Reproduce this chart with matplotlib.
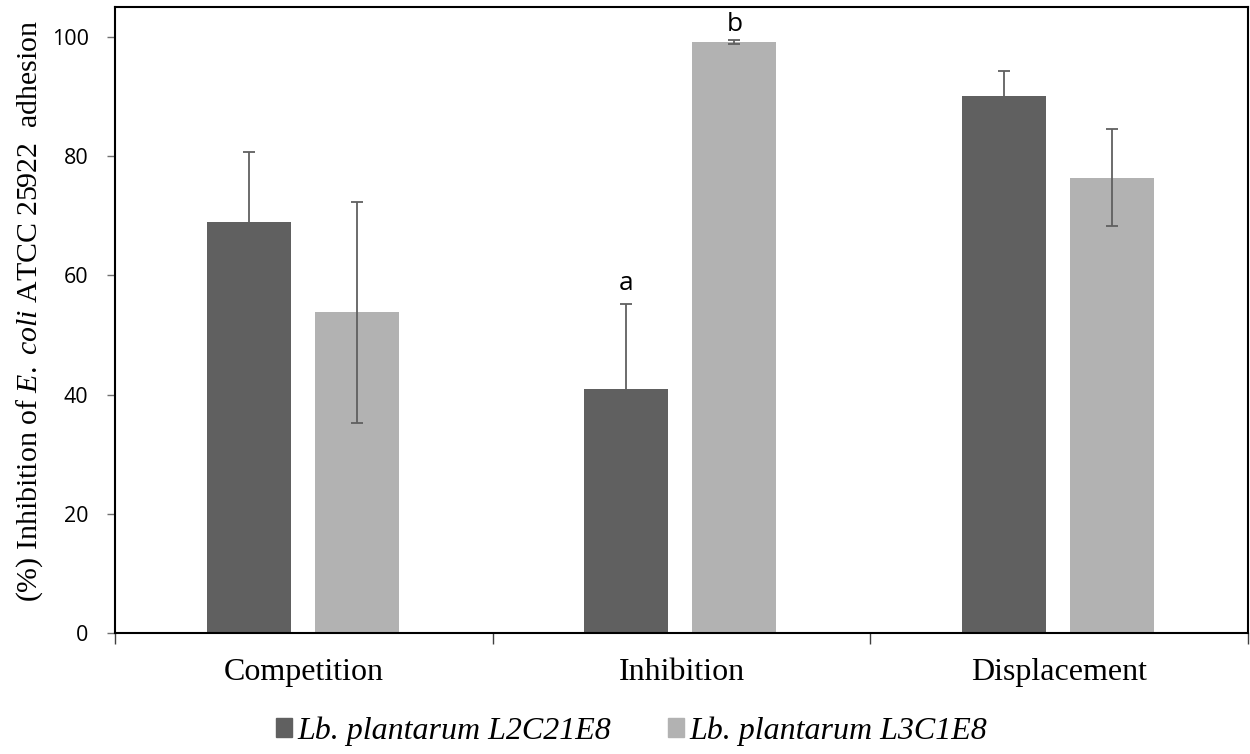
import numpy as np
import matplotlib.pyplot as plt
from matplotlib.patches import Patch

plt.rcParams['mathtext.fontset'] = 'custom'
plt.rcParams['mathtext.rm'] = 'Liberation Serif'
plt.rcParams['mathtext.it'] = 'Liberation Serif:italic'

categories = ["Competition", "Inhibition", "Displacement"]
strain1 = "Lb. plantarum L2C21E8"
strain2 = "Lb. plantarum L3C1E8"
vals1 = [69.0, 41.0, 90.0]
vals2 = [53.8, 99.1, 76.4]
err1 = [11.7, 14.1, 4.2]
err2 = [18.5, 0.3, 8.2]
letters1 = ["", "a", ""]
letters2 = ["", "b", ""]

dark = "#606060"
light = "#b2b2b2"

fig = plt.figure(figsize=(12.5, 7.54), dpi=100)
ax = fig.add_axes([0.092, 0.1605, 0.9064, 0.8302])

x = np.arange(len(categories))
w = 0.223
ekw = dict(elinewidth=1.3, capsize=4.3, capthick=1.3)
ax.bar(x - 0.146, vals1, w, color=dark, yerr=err1, ecolor=dark, error_kw=ekw)
ax.bar(x + 0.14, vals2, w, color=light, yerr=err2, ecolor=dark, error_kw=ekw)

for i in range(len(categories)):
    if letters1[i]:
        ax.text(x[i] - 0.146, vals1[i] + err1[i] + 2.4, letters1[i],
                ha="center", va="baseline", fontsize=19, family="Open Sans")
    if letters2[i]:
        ax.text(x[i] + 0.14, vals2[i] + err2[i] + 1.6, letters2[i],
                ha="center", va="baseline", fontsize=19, family="Open Sans")

ax.set_xlim(-0.5, 2.5)
ax.set_ylim(0, 105)
ax.set_yticks([0, 20, 40, 60, 80, 100])
ax.tick_params(axis="y", labelsize=15.5, length=6, width=1, color="#707070", pad=13)
for lab in ax.get_yticklabels():
    lab.set_family("Open Sans")

ax.set_xticks([-0.5, 0.5, 1.5, 2.5])
ax.set_xticklabels([])
ax.set_xticks(x, minor=True)
ax.set_xticklabels(categories, minor=True, fontsize=23, family="Liberation Serif")
ax.tick_params(axis="x", which="major", length=8, width=1, color="#404040")
ax.tick_params(axis="x", which="minor", length=0, pad=18)

for s in ax.spines.values():
    s.set_linewidth(1.5)
    s.set_color("black")

ax.set_ylabel(r"(%) Inhibition of $\mathit{E.}$ $\mathit{coli}$ ATCC 25922  adhesion",
              fontsize=21.5, family="Liberation Serif")
ax.yaxis.set_label_coords(-0.062, 0.514)

handles = [Patch(color=dark), Patch(color=light)]
fig.legend(handles, [strain1, strain2], loc="center", bbox_to_anchor=(0.505, 0.03),
           ncol=2, frameon=False, handlelength=0.52, handleheight=0.52,
           handletextpad=0.16, columnspacing=1.77,
           prop=dict(family="Liberation Serif", style="italic", size=23))

fig.savefig("out.png", dpi=100)
